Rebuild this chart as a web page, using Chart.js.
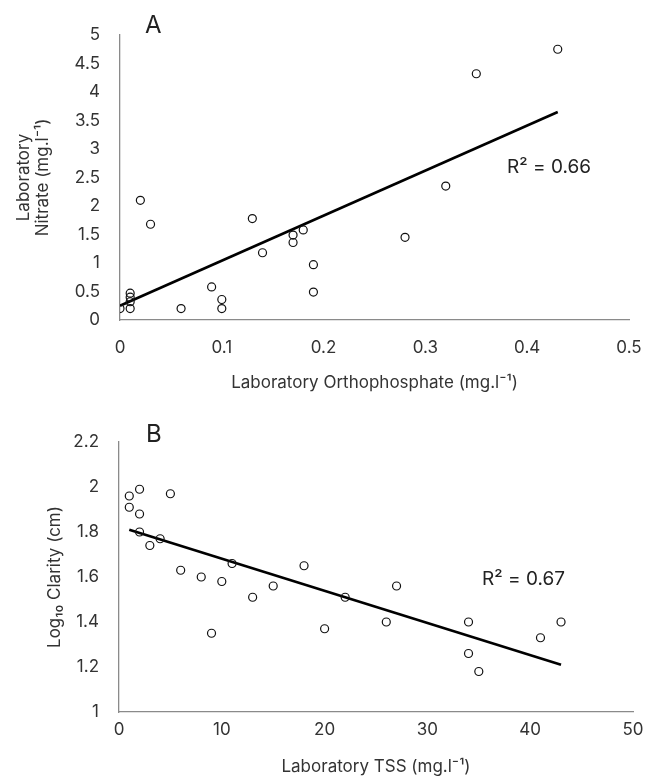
<!DOCTYPE html>
<html>
<head>
<meta charset="utf-8">
<script src="https://cdn.jsdelivr.net/npm/chart.js@4.4.1/dist/chart.umd.min.js"></script>
<style>
  html, body { margin: 0; padding: 0; background: #fff; }
  #wrap { position: relative; width: 661px; height: 781px; }
  canvas { position: absolute; left: 0; }
</style>
</head>
<body>
<div id="wrap">
  <canvas id="chartA" width="661" height="400" style="top:0"></canvas>
  <canvas id="chartB" width="661" height="381" style="top:400px"></canvas>
</div>
<script>
// --- panel A: orthophosphate vs nitrate
const phosphate = [0, 0.01, 0.01, 0.01, 0.01, 0.02, 0.03, 0.06, 0.09, 0.1, 0.1, 0.13, 0.14, 0.17, 0.17, 0.18, 0.19, 0.19, 0.28, 0.32, 0.35, 0.43];
const nitrate   = [0.2, 0.47, 0.4, 0.32, 0.2, 2.1, 1.68, 0.2, 0.58, 0.36, 0.2, 1.78, 1.18, 1.49, 1.36, 1.58, 0.97, 0.49, 1.45, 2.35, 4.32, 4.75];
const trendAx = [0, 0.43];
const trendAy = [0.25, 3.65];
const xTicksA = [0, 0.1, 0.2, 0.3, 0.4, 0.5];
const yTicksA = [0, 0.5, 1, 1.5, 2, 2.5, 3, 3.5, 4, 4.5, 5];

// --- panel B: TSS vs log10 clarity
const tss     = [1, 1, 2, 2, 2, 3, 4, 5, 6, 8, 9, 10, 11, 13, 15, 18, 20, 22, 26, 27, 34, 34, 35, 41, 43];
const clarity = [1.96, 1.91, 1.99, 1.88, 1.8, 1.74, 1.77, 1.97, 1.63, 1.6, 1.35, 1.58, 1.66, 1.51, 1.56, 1.65, 1.37, 1.51, 1.4, 1.56, 1.4, 1.26, 1.18, 1.33, 1.4];
const trendBx = [1, 43];
const trendBy = [1.81, 1.21];
const xTicksB = [0, 10, 20, 30, 40, 50];
const yTicksB = [1, 1.2, 1.4, 1.6, 1.8, 2, 2.2];

const FONT = "Inter, 'Liberation Sans', Arial, sans-serif";
const TEXT = "#333";
const AXIS = "#8a8a8a";

const toPts = (xs, ys) => xs.map((x, i) => ({ x, y: ys[i] }));

// draws panel letter and R² note
const notes = {
  id: "notes",
  afterDraw(chart, args, opts) {
    const ctx = chart.ctx;
    ctx.save();
    ctx.fillStyle = "#222";
    ctx.textBaseline = "alphabetic";
    ctx.textAlign = "left";
    (opts.items || []).forEach(it => {
      ctx.font = `${it.size}px ${FONT}`;
      ctx.fillText(it.text, it.x, it.y);
    });
    ctx.restore();
  }
};

function axis(ticks, min, max, cfg) {
  return {
    type: "linear",
    min, max,
    grid: { display: false, drawTicks: false },
    border: { display: true, color: AXIS, width: 1.3 },
    afterBuildTicks: s => { s.ticks = ticks.map(v => ({ value: v })); },
    afterFit: s => {
      if (cfg.width != null) s.width = cfg.width;
      if (cfg.height != null) s.height = cfg.height;
    },
    ticks: {
      padding: cfg.tickPad,
      color: TEXT,
      font: { family: FONT, size: 17 },
      callback: v => String(v)
    },
    title: {
      display: true,
      text: cfg.title,
      color: TEXT,
      font: { family: FONT, size: 17, lineHeight: 1.15 },
      padding: cfg.titlePad
    }
  };
}

function makeChart(id, pts, trend, sx, sy, padding, items) {
  return new Chart(document.getElementById(id), {
    type: "scatter",
    data: {
      datasets: [
        {
          data: pts,
          pointStyle: "circle",
          pointRadius: 4,
          borderColor: "#111",
          borderWidth: 1.2,
          backgroundColor: "rgba(255,255,255,0)"
        },
        {
          data: trend,
          showLine: true,
          pointRadius: 0,
          borderColor: "#000",
          borderWidth: 2.6
        }
      ]
    },
    options: {
      responsive: false,
      animation: false,
      layout: { padding },
      plugins: {
        legend: { display: false },
        tooltip: { enabled: false },
        notes: { items }
      },
      scales: { x: sx, y: sy }
    },
    plugins: [notes]
  });
}

makeChart("chartA",
  toPts(phosphate, nitrate), toPts(trendAx, trendAy),
  axis(xTicksA, 0, 0.5, { height: 80, tickPad: 18, title: "Laboratory Orthophosphate (mg.l\u207B\u00B9)", titlePad: { top: 0, bottom: 7 } }),
  axis(yTicksA, 0, 5, { width: 120, tickPad: 20, title: ["Laboratory", "Nitrate (mg.l\u207B\u00B9)"], titlePad: { top: 14, bottom: 0 } }),
  { top: 35, right: 32, left: 0, bottom: 0 },
  [{ text: "A", x: 145, y: 33, size: 24 }, { text: "R\u00B2 = 0.66", x: 507, y: 173, size: 19 }]
);

makeChart("chartB",
  toPts(tss, clarity), toPts(trendBx, trendBy),
  axis(xTicksB, 0, 50, { height: 69, tickPad: 8, title: "Laboratory TSS (mg.l\u207B\u00B9)", titlePad: { top: 0, bottom: 4 } }),
  axis(yTicksB, 1, 2.2, { width: 119, tickPad: 20, title: "Log\u2081\u2080 Clarity (cm)", titlePad: { top: 45, bottom: 0 } }),
  { top: 42, right: 28, left: 0, bottom: 0 },
  [{ text: "B", x: 146, y: 42, size: 24 }, { text: "R\u00B2 = 0.67", x: 482, y: 185, size: 19 }]
);
</script>
</body>
</html>
